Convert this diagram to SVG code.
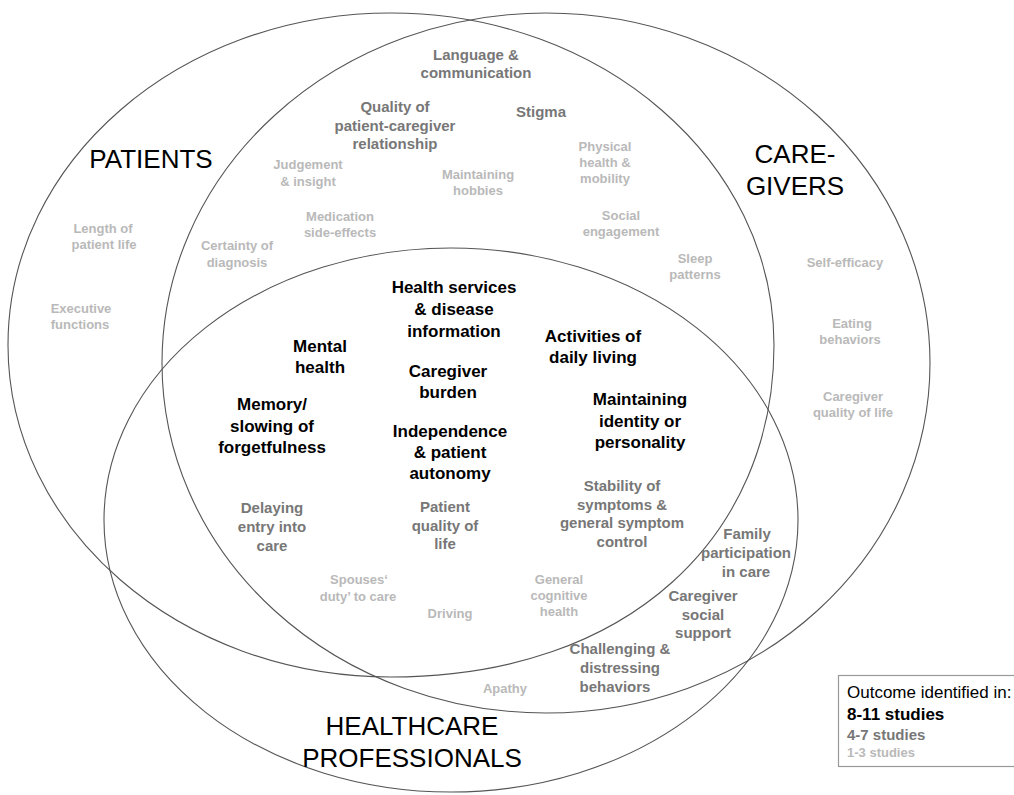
<svg xmlns="http://www.w3.org/2000/svg" width="1014" height="795" viewBox="0 0 1014 795">
<style>
.set{fill:none;stroke:#555;stroke-width:1.1}
.title{font-family:"Liberation Sans",Arial,sans-serif;font-size:26px;fill:#000;text-anchor:middle}
.hi{font-family:"Liberation Sans",Arial,sans-serif;font-size:17px;font-weight:bold;fill:#000;text-anchor:middle}
.mid{font-family:"Liberation Sans",Arial,sans-serif;font-size:15px;font-weight:bold;fill:#777;text-anchor:middle}
.lo{font-family:"Liberation Sans",Arial,sans-serif;font-size:13px;font-weight:bold;fill:#b9b9b9;text-anchor:middle}
</style>
<rect width="1014" height="795" fill="#fff"/>
<g id="set-patients">
<path class="set" d="M 8,345 C 8,161.6 179.5,13 391,13 C 602.5,13 774,161.6 774,345 C 774,535 630,677 391,677 C 179.5,677 8,528.4 8,345 Z"/>
<text class="title" x="151" y="168">PATIENTS</text>
</g>
<g id="set-caregivers">
<ellipse class="set" cx="546" cy="363" rx="384" ry="350"/>
<text class="title" x="795" y="163">CARE-</text>
<text class="title" x="795" y="195">GIVERS</text>
</g>
<g id="set-healthcare">
<ellipse class="set" cx="451" cy="520" rx="347" ry="272"/>
<text class="title" x="412" y="735">HEALTHCARE</text>
<text class="title" x="412" y="767">PROFESSIONALS</text>
</g>
<g id="connectors"></g>
<g id="outcomes">
<text id="o-language" class="mid"><tspan x="476" y="60">Language &amp;</tspan><tspan x="476" y="78">communication</tspan></text>
<text id="o-quality-rel" class="mid"><tspan x="395" y="112">Quality of</tspan><tspan x="395" y="131">patient-caregiver</tspan><tspan x="395" y="149">relationship</tspan></text>
<text id="o-stigma" class="mid" x="541" y="117">Stigma</text>
<text id="o-judgement" class="lo"><tspan x="308" y="169">Judgement</tspan><tspan x="308" y="186">&amp; insight</tspan></text>
<text id="o-hobbies" class="lo"><tspan x="478" y="179">Maintaining</tspan><tspan x="478" y="195">hobbies</tspan></text>
<text id="o-physical" class="lo"><tspan x="605" y="151">Physical</tspan><tspan x="605" y="167">health &amp;</tspan><tspan x="605" y="183">mobility</tspan></text>
<text id="o-medication" class="lo"><tspan x="340" y="221">Medication</tspan><tspan x="340" y="237">side-effects</tspan></text>
<text id="o-social" class="lo"><tspan x="621" y="220">Social</tspan><tspan x="621" y="236">engagement</tspan></text>
<text id="o-length" class="lo"><tspan x="103" y="233">Length of</tspan><tspan x="104" y="249">patient life</tspan></text>
<text id="o-certainty" class="lo"><tspan x="237" y="250">Certainty of</tspan><tspan x="237" y="267">diagnosis</tspan></text>
<text id="o-sleep" class="lo"><tspan x="695" y="263">Sleep</tspan><tspan x="695" y="279">patterns</tspan></text>
<text id="o-selfefficacy" class="lo" x="845" y="267">Self-efficacy</text>
<text id="o-executive" class="lo"><tspan x="81" y="313">Executive</tspan><tspan x="80" y="329">functions</tspan></text>
<text id="o-eating" class="lo"><tspan x="852" y="328">Eating</tspan><tspan x="850" y="344">behaviors</tspan></text>
<text id="o-cg-qol" class="lo"><tspan x="853" y="401">Caregiver</tspan><tspan x="853" y="417">quality of life</tspan></text>
<text id="o-health-services" class="hi"><tspan x="454" y="293">Health services</tspan><tspan x="454" y="315">&amp; disease</tspan><tspan x="454" y="337">information</tspan></text>
<text id="o-mental" class="hi"><tspan x="320" y="352">Mental</tspan><tspan x="320" y="373">health</tspan></text>
<text id="o-burden" class="hi"><tspan x="448" y="377">Caregiver</tspan><tspan x="448" y="398">burden</tspan></text>
<text id="o-adl" class="hi"><tspan x="593" y="342">Activities of</tspan><tspan x="593" y="363">daily living</tspan></text>
<text id="o-identity" class="hi"><tspan x="640" y="405">Maintaining</tspan><tspan x="640" y="427">identity or</tspan><tspan x="640" y="448">personality</tspan></text>
<text id="o-memory" class="hi"><tspan x="272" y="410">Memory/</tspan><tspan x="272" y="432">slowing of</tspan><tspan x="272" y="453">forgetfulness</tspan></text>
<text id="o-independence" class="hi"><tspan x="450" y="437">Independence</tspan><tspan x="450" y="458">&amp; patient</tspan><tspan x="450" y="479">autonomy</tspan></text>
<text id="o-delaying" class="mid"><tspan x="272" y="513">Delaying</tspan><tspan x="272" y="532">entry into</tspan><tspan x="272" y="551">care</tspan></text>
<text id="o-patient-qol" class="mid"><tspan x="445" y="512">Patient</tspan><tspan x="445" y="531">quality of</tspan><tspan x="445" y="549">life</tspan></text>
<text id="o-stability" class="mid"><tspan x="622" y="491">Stability of</tspan><tspan x="622" y="510">symptoms &amp;</tspan><tspan x="622" y="528">general symptom</tspan><tspan x="622" y="547">control</tspan></text>
<text id="o-family" class="mid"><tspan x="747" y="539">Family</tspan><tspan x="746" y="558">participation</tspan><tspan x="746" y="577">in care</tspan></text>
<text id="o-cg-support" class="mid"><tspan x="703" y="601">Caregiver</tspan><tspan x="703" y="620">social</tspan><tspan x="703" y="638">support</tspan></text>
<text id="o-challenging" class="mid"><tspan x="620" y="654">Challenging &amp;</tspan><tspan x="620" y="673">distressing</tspan><tspan x="615" y="692">behaviors</tspan></text>
<text id="o-spouses" class="lo"><tspan x="359" y="584">Spouses‘</tspan><tspan x="358" y="601">duty’ to care</tspan></text>
<text id="o-driving" class="lo" x="450" y="618">Driving</text>
<text id="o-cognitive" class="lo"><tspan x="559" y="584">General</tspan><tspan x="559" y="600">cognitive</tspan><tspan x="559" y="616">health</tspan></text>
<text id="o-apathy" class="lo" x="505" y="693">Apathy</text>
</g>
<g id="legend">
<rect x="838.5" y="675.5" width="190" height="91" fill="#fff" stroke="#999" stroke-width="1.2"/>
<text x="847" y="698" font-family="'Liberation Sans',Arial,sans-serif" font-size="17" fill="#000">Outcome identified in:</text>
<text x="847" y="720" font-family="'Liberation Sans',Arial,sans-serif" font-size="17" font-weight="bold" fill="#000">8-11 studies</text>
<text x="847" y="740" font-family="'Liberation Sans',Arial,sans-serif" font-size="15" font-weight="bold" fill="#777">4-7 studies</text>
<text x="847" y="757" font-family="'Liberation Sans',Arial,sans-serif" font-size="13" font-weight="bold" fill="#b9b9b9">1-3 studies</text>
</g>
</svg>
